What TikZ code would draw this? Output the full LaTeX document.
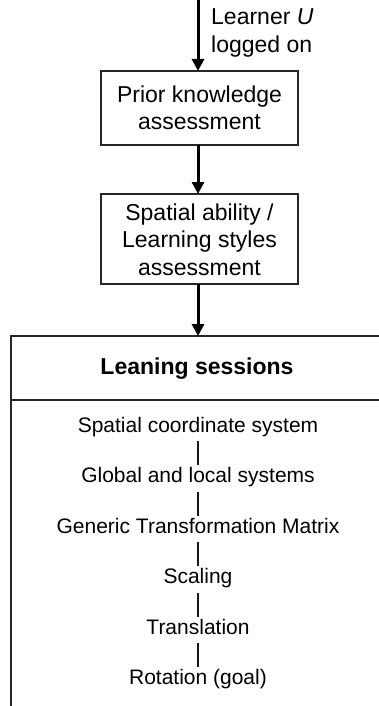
\documentclass[tikz,border=0pt]{standalone}
\usepackage{fontspec}
\setmainfont{Liberation Sans}
\usetikzlibrary{arrows.meta}
\begin{document}
\begin{tikzpicture}[x=1pt,y=-1pt,
  boxtxt/.style={font=\fontsize{23}{27.5}\selectfont, align=center, inner sep=0pt},
  itemtxt/.style={font=\fontsize{21}{25}\selectfont, inner xsep=0pt, inner ysep=2pt, text height=15pt, text depth=7pt, anchor=base},
  bigarrow/.style={line width=3pt, -{Triangle[length=12pt,width=12pt]}},
  frame/.style={line width=1.3pt, draw=black!85},
  link/.style={line width=1.5pt, draw=black!90}]
\useasboundingbox (0,0) rectangle (378,706);
% box 1
\draw[frame] (101,71) rectangle (298,145);
\node[boxtxt] (pk) at (199.5,108) {Prior knowledge\\assessment};
\coordinate (b1t) at (198,71);
\coordinate (b1b) at (198,145);
% box 2
\draw[frame] (101,194) rectangle (298,284);
\node[boxtxt] (sa) at (199.5,239.5) {Spatial ability /\\Learning styles\\assessment};
\coordinate (b2t) at (198,194);
\coordinate (b2b) at (198,284);
% big box (open right and bottom)
\draw[frame] (380,336) -- (11,336) -- (11,708);
\draw[frame] (11,400) -- (380,400);
\coordinate (bt) at (198,336);
\node[boxtxt, font=\fontsize{23}{27.5}\selectfont\bfseries] (ls) at (197,369) {Leaning sessions};
% start
\coordinate (start) at (198,0);
\node[boxtxt, anchor=west, align=left] (learner) at (211,33) {Learner \textit{U}\\logged on};
% arrows
\draw[bigarrow] (start) -- (b1t);
\draw[bigarrow] (b1b) -- (b2t);
\draw[bigarrow] (b2b) -- (bt);
% session items
\node[itemtxt] (i1) at (198,432) {Spatial coordinate system};
\node[itemtxt] (i2) at (198,482.5) {Global and local systems};
\node[itemtxt] (i3) at (198,533) {Generic Transformation Matrix};
\node[itemtxt] (i4) at (198,583.5) {Scaling};
\node[itemtxt] (i5) at (198,634) {Translation};
\node[itemtxt] (i6) at (198,684.5) {Rotation (goal)};
\foreach \a/\b in {i1/i2,i2/i3,i3/i4,i4/i5,i5/i6}
  \draw[link] (\a.south) -- (\b.north);
\end{tikzpicture}
\end{document}
